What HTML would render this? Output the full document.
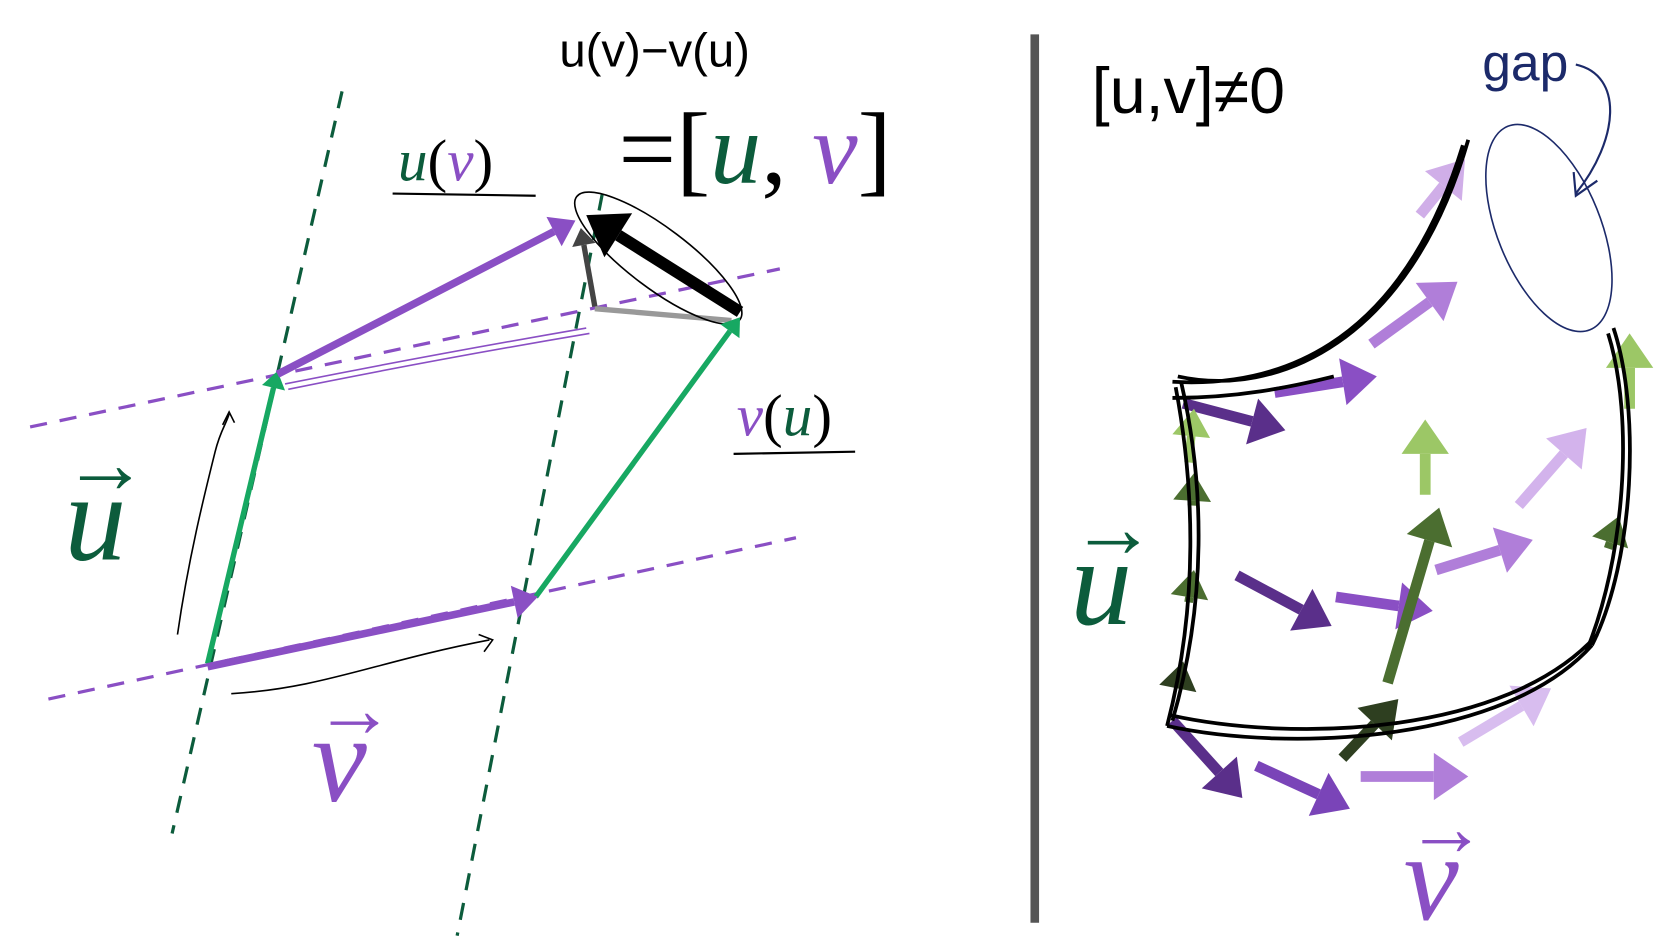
<!DOCTYPE html>
<html><head><meta charset="utf-8">
<style>
html,body{margin:0;padding:0;background:#fff;}
svg{display:block;}
text{font-family:"Liberation Serif",serif;}
.hw{font-family:"Liberation Sans",sans-serif;font-weight:300;}
</style></head>
<body>
<svg id="s" width="1678" height="940" viewBox="0 0 1560 874" preserveAspectRatio="none" xmlns="http://www.w3.org/2000/svg">
<rect width="1560" height="874" fill="#fff"/>
<g id="left">
  <line x1="318" y1="85" x2="160" y2="775" stroke="#0c5c3c" stroke-width="3" stroke-dasharray="16,12"/>
  <line x1="560" y1="180" x2="425" y2="870" stroke="#0c5c3c" stroke-width="3" stroke-dasharray="16,12"/>
  <line x1="28" y1="397" x2="725" y2="250" stroke="#8a4fc4" stroke-width="3" stroke-dasharray="16,12"/>
  <line x1="45" y1="650" x2="740" y2="500" stroke="#8a4fc4" stroke-width="3" stroke-dasharray="16,12"/>
  <path d="M265 357 Q400 330 545 305 M268 362 Q400 335 548 310" stroke="#8a4fc4" stroke-width="1.5" fill="none"/>
  <path d="M165 590 C175 520 190 460 200 420 C205 400 210 395 213 385 M207 395 L213 383 L218 393" stroke="#000" stroke-width="1.5" fill="none"/>
  <path d="M215 645 C300 640 350 615 455 595 M445 590 L458 595 L450 606" stroke="#000" stroke-width="1.5" fill="none"/>
  <line x1="553" y1="287" x2="680" y2="298" stroke="#999" stroke-width="5"/>
  <ellipse cx="612" cy="240" rx="95" ry="28" transform="rotate(37 612 240)" fill="none" stroke="#000" stroke-width="1.5"/>
  <text x="60" y="520" font-size="115" font-style="italic" fill="#0c5c3c">u</text>
  <text x="58" y="458" font-size="80" font-weight="bold" fill="#0c5c3c">→</text>
  <text x="290" y="745" font-size="115" font-style="italic" fill="#8a4fc4">v</text>
  <text x="292" y="685" font-size="75" font-weight="bold" fill="#8a4fc4">→</text>
  <text x="370" y="168" font-size="55"><tspan fill="#0c5c3c" font-style="italic">u</tspan><tspan fill="#000">(</tspan><tspan fill="#8a4fc4" font-style="italic">v</tspan><tspan fill="#000">)</tspan></text>
  <line x1="365" y1="180" x2="498" y2="182" stroke="#000" stroke-width="2"/>
  <text x="685" y="405" font-size="55"><tspan fill="#8a4fc4" font-style="italic">v</tspan><tspan fill="#000">(</tspan><tspan fill="#0c5c3c" font-style="italic">u</tspan><tspan fill="#000">)</tspan></text>
  <line x1="682" y1="422" x2="795" y2="420" stroke="#000" stroke-width="2"/>
  <text x="575" y="170" font-size="95"><tspan fill="#000">=[</tspan><tspan fill="#0c5c3c" font-style="italic">u</tspan><tspan fill="#000">, </tspan><tspan fill="#8a4fc4" font-style="italic">v</tspan><tspan fill="#000">]</tspan></text>
  <text x="520" y="62" font-size="44" class="hw" fill="#000">u(v)−v(u)</text>
</g>
<line x1="962" y1="32" x2="962" y2="858" stroke="#555" stroke-width="8"/>
<g id="right">
  <text x="1015" y="105" font-size="60" class="hw" fill="#000">[u,v]≠0</text>
  <text x="1378" y="75" font-size="48" class="hw" fill="#1c2a6a">gap</text>
  <path d="M1465 60 C1510 70 1505 130 1465 180 M1463 160 L1465 182 L1485 168" stroke="#1c2a6a" stroke-width="2" fill="none"/>
  <ellipse cx="1440" cy="212" rx="48" ry="102" transform="rotate(-22 1440 212)" fill="none" stroke="#1c2a6a" stroke-width="1.5"/>
  <text x="995" y="580" font-size="115" font-style="italic" fill="#0c5c3c">u</text>
  <text x="995" y="518" font-size="80" font-weight="bold" fill="#0c5c3c">→</text>
  <text x="1305" y="855" font-size="115" font-style="italic" fill="#8a4fc4">v</text>
  <text x="1307" y="795" font-size="75" font-weight="bold" fill="#8a4fc4">→</text>
  <g id="arrows"></g>
  <g stroke="#000" stroke-width="3.5" fill="none">
    <path d="M1090 355 C1180 360 1300 330 1360 135 M1095 350 C1185 370 1310 320 1365 130 M1090 370 C1150 370 1200 360 1240 350"/>
    <path d="M1093 360 C1110 450 1115 560 1085 675 M1098 355 C1120 450 1122 560 1090 670"/>
    <path d="M1085 675 C1200 700 1400 690 1480 600 M1088 665 C1200 690 1400 685 1485 590"/>
    <path d="M1500 305 C1525 380 1520 520 1480 600 M1495 310 C1520 390 1510 520 1475 605"/>
  </g>
</g>
<script>
const A=[
 [193,617,258,345,'#17a862',5],
 [498,555,688,295,'#17a862',5],
 [193,620,500,555,'#8a4fc4',7],
 [258,348,535,205,'#8a4fc4',7],
 [553,285,540,212,'#444',5],
 [688,290,545,200,'#000',11],
 [1100,375,1195,400,'#5a2f8a',10],[1185,365,1280,350,'#8a4fc4',10],[1275,320,1355,262,'#b07ed9',10],[1320,200,1362,148,'#d0aee8',10],
 [1150,535,1238,582,'#5a2f8a',10],[1242,555,1332,568,'#8a4fc4',10],[1335,530,1425,502,'#b07ed9',10],[1412,470,1475,398,'#d3b3ec',10],
 [1090,670,1155,742,'#5a2f8a',10],[1168,712,1255,752,'#7a44b8',10],[1265,722,1365,722,'#b07ed9',10],[1358,690,1442,640,'#d8bdef',10],
 [1325,460,1325,390,'#9cc766',10],[1515,380,1515,310,'#9cc766',10],[1105,430,1110,380,'#9cc766',8],
 [1290,635,1338,472,'#4b6e30',10],[1248,705,1300,650,'#2e3f20',10],[1108,470,1110,440,'#4b6e30',8],[1495,510,1505,480,'#4b6e30',8],[1105,560,1110,530,'#4b6e30',8],[1095,640,1100,615,'#2e3f20',8]
];
const NS='http://www.w3.org/2000/svg';
A.forEach((a,i)=>{
 const [x1,y1,x2,y2,c,w]=a;
 const dx=x2-x1,dy=y2-y1,L=Math.hypot(dx,dy),ux=dx/L,uy=dy/L;
 const hl=w*3.2,hw=w*2.2;
 const bx=x2-ux*hl,by=y2-uy*hl;
 const g=document.createElementNS(NS,'g');
 
 
 const ln=document.createElementNS(NS,'line');
 ln.setAttribute('x1',x1);ln.setAttribute('y1',y1);ln.setAttribute('x2',bx);ln.setAttribute('y2',by);
 ln.setAttribute('stroke',c);ln.setAttribute('stroke-width',w);
 const p=document.createElementNS(NS,'polygon');
 p.setAttribute('points',`${x2},${y2} ${bx-uy*hw},${by+ux*hw} ${bx+uy*hw},${by-ux*hw}`);
 p.setAttribute('fill',c);
 g.appendChild(ln);g.appendChild(p);
 (i<6?document.getElementById('left'):document.getElementById('arrows')).appendChild(g);
});
</script>
</svg>
</body></html>
